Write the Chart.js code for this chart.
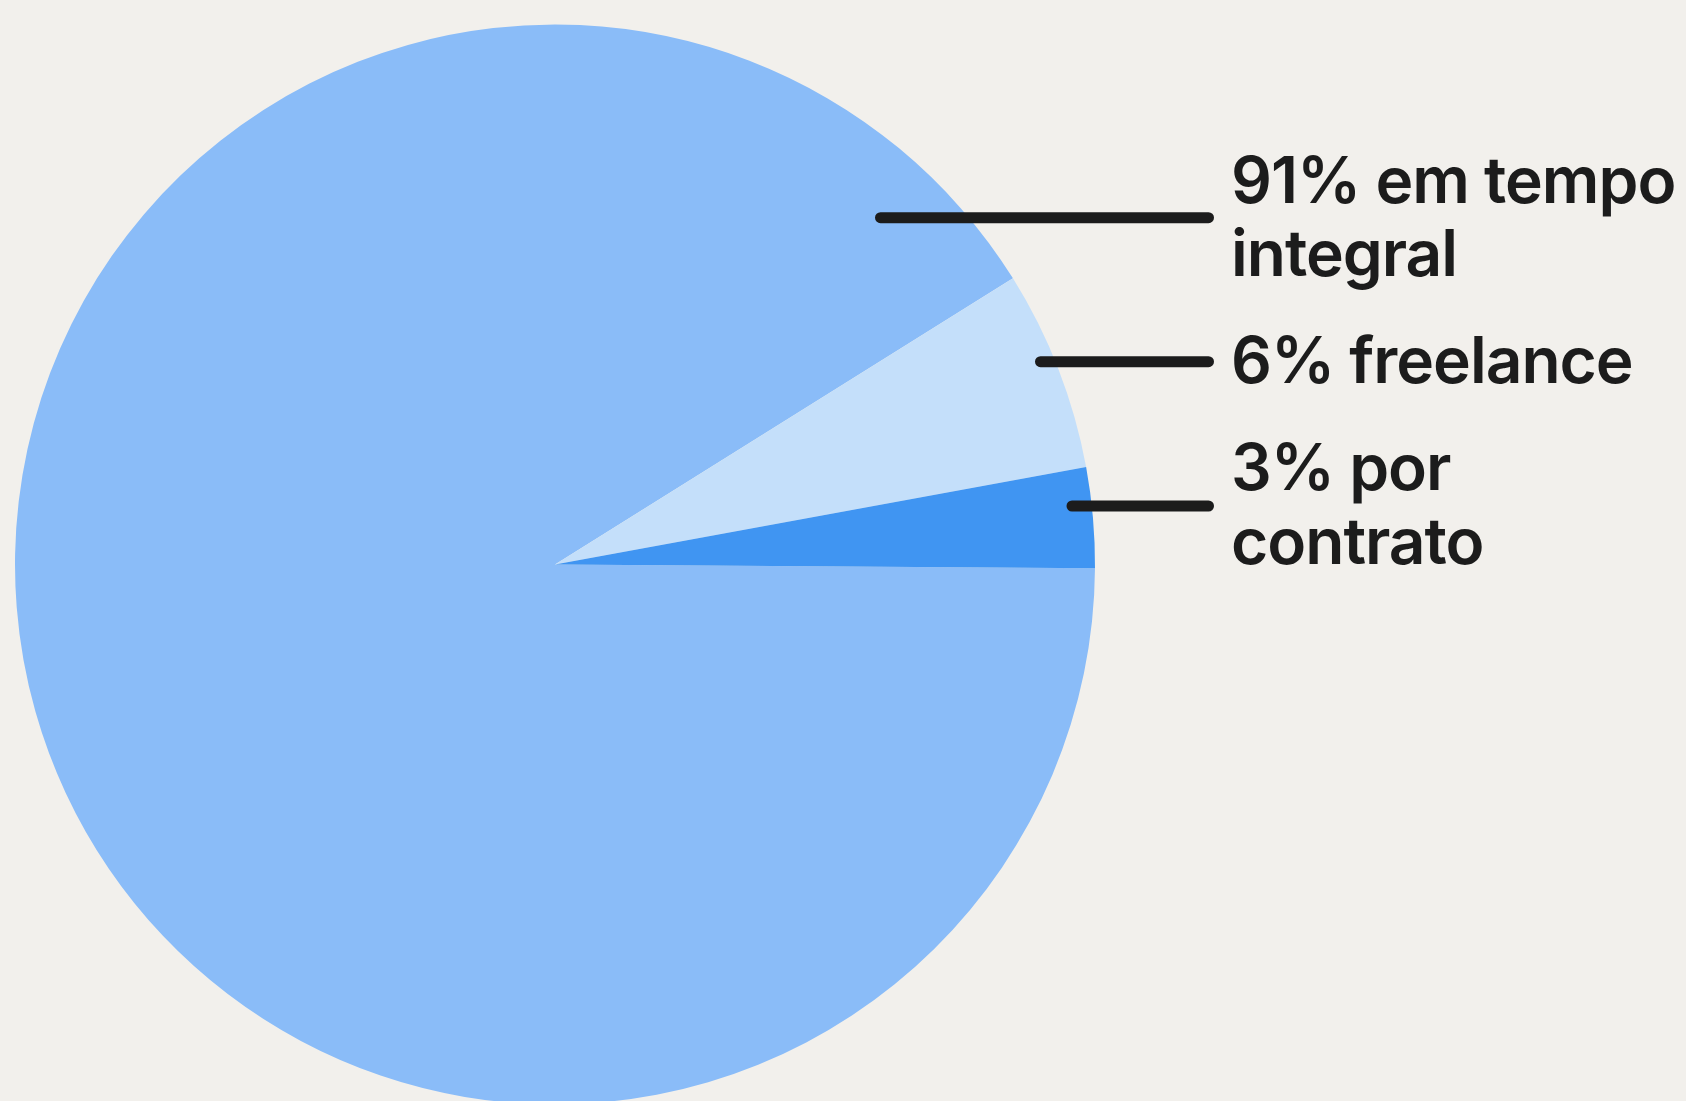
<!DOCTYPE html>
<html>
<head>
<meta charset="utf-8">
<script src="https://cdn.jsdelivr.net/npm/chart.js@4"></script>
<style>
  html, body { margin: 0; padding: 0; background: #F2F0EC; overflow: hidden; width: 1686px; height: 1101px; }
  #wrap { width: 1686px; height: 1101px; overflow: hidden; position: relative; }
  canvas { display: block; }
</style>
</head>
<body>
<div id="wrap"><canvas id="c" width="1686" height="1110"></canvas></div>
<script>
// ---- data ----
const categories = ["em tempo integral", "freelance", "por contrato"];
const values = [91, 6, 3];
const labelLines = [
  ["91% em tempo", "integral"],
  ["6% freelance"],
  ["3% por", "contrato"]
];
const colors = ["#8ABCF8", "#C4DFFA", "#4095F2"];

// ---- layout (positions/styles for the leader labels) ----
const leaderLayout = [
  { x0: 880.5, x1: 1208.5, y: 217.7, textBaseline0: 202.7 },
  { x0: 1040.5, x1: 1208.5, y: 361.7, textBaseline0: 383.3 },
  { x0: 1072, x1: 1208.5, y: 506, textBaseline0: 490 }
];
const textX = 1231;
const lineHeight = 73.7;
const fontCss = '600 64px Inter, "Noto Sans", sans-serif';
const inkColor = "#1C1C1C";

const leaderPlugin = {
  id: "leaders",
  afterDatasetsDraw(chart) {
    const ctx = chart.ctx;
    ctx.save();
    ctx.strokeStyle = inkColor;
    ctx.lineWidth = 11;
    ctx.lineCap = "round";
    ctx.fillStyle = inkColor;
    ctx.font = fontCss;
    if ("letterSpacing" in ctx) ctx.letterSpacing = "-1px";
    ctx.textBaseline = "alphabetic";
    ctx.textAlign = "left";
    leaderLayout.forEach((l, i) => {
      ctx.beginPath();
      ctx.moveTo(l.x0, l.y);
      ctx.lineTo(l.x1, l.y);
      ctx.stroke();
      labelLines[i].forEach((t, j) => {
        ctx.fillText(t, textX, l.textBaseline0 + j * lineHeight);
      });
    });
    ctx.restore();
  }
};

new Chart(document.getElementById("c"), {
  type: "pie",
  data: {
    labels: categories,
    datasets: [{
      data: values,
      backgroundColor: colors,
      borderWidth: 0,
      hoverOffset: 0,
      offset: 0
    }]
  },
  options: {
    responsive: false,
    animation: false,
    events: [],
    devicePixelRatio: 1,
    rotation: 90.4,
    layout: { padding: { left: 15, top: 24.5, right: 591, bottom: 5.5 } },
    plugins: { legend: { display: false }, tooltip: { enabled: false } }
  },
  plugins: [leaderPlugin]
});
</script>
</body>
</html>
